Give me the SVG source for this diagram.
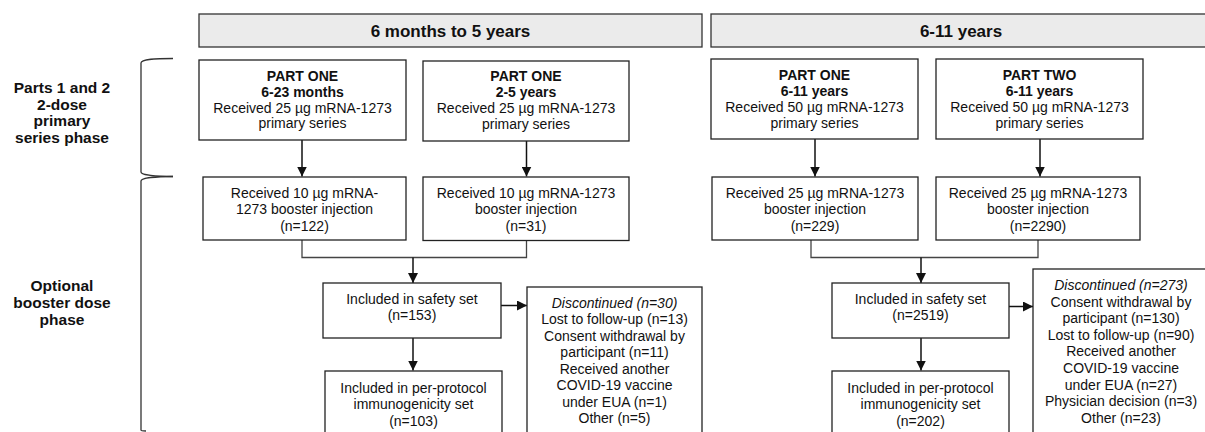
<svg xmlns="http://www.w3.org/2000/svg" width="1205" height="432" viewBox="0 0 1205 432">
<defs>
<style>
.box{fill:#fff;stroke:#222;stroke-width:1.3}
.hdr{fill:#ebebeb;stroke:#333;stroke-width:1.3}
text{font-family:"Liberation Sans",Arial,sans-serif;fill:#111;text-anchor:middle}
.t{font-size:14px}
.b{font-weight:bold}
.h{font-size:17px;font-weight:bold}
.lab{font-size:15.5px;font-weight:bold}
.i{font-style:italic}
.arr{stroke:#111;stroke-width:1.5;fill:none;marker-end:url(#ah)}
.mrg{stroke:#444;stroke-width:1.3;fill:none}
.brace{stroke:#333;stroke-width:1.3;fill:none}
</style>
<marker id="ah" viewBox="0 0 10 10" refX="10" refY="5" markerWidth="10" markerHeight="10" markerUnits="userSpaceOnUse" orient="auto">
<path d="M0,0 L10,5 L0,10 z" fill="#111"/>
</marker>
</defs>
<rect width="1205" height="432" fill="#fff"/>

<g id="labels">
<path class="brace" d="M173,58.5 C156,58.5 141,59 141,63 L141,172 C141,175 156,176.5 173,176.5"/>
<path class="brace" d="M173,176.5 C156,176.5 141,178 141,181 L141,430 C141,431 143,431 146,431"/>
<text class="lab" x="62" y="93">Parts 1 and 2</text>
<text class="lab" x="62" y="109.5">2-dose</text>
<text class="lab" x="62" y="126">primary</text>
<text class="lab" x="62" y="142.5">series phase</text>
<text class="lab" x="62" y="290.5">Optional</text>
<text class="lab" x="62" y="307.5">booster dose</text>
<text class="lab" x="62" y="324.5">phase</text>
</g>

<g id="header-left">
<rect class="hdr" x="199" y="14" width="503" height="33"/>
<text class="h" x="450.5" y="36.5">6 months to 5 years</text>
</g>
<g id="header-right">
<rect class="hdr" x="711" y="14" width="510" height="33"/>
<text class="h" x="961" y="36.5">6-11 years</text>
</g>

<g id="connectors">
<line class="arr" x1="302" y1="140" x2="302" y2="176.5"/>
<line class="arr" x1="526.5" y1="141" x2="526.5" y2="176.5"/>
<line class="arr" x1="815" y1="139" x2="815" y2="176.5"/>
<line class="arr" x1="1040" y1="139" x2="1040" y2="176.5"/>
<path class="mrg" d="M302,240 V257.5 H526.5 V240.5"/>
<path class="mrg" d="M811,240 V257.5 H1038 V240"/>
<line class="arr" x1="413" y1="257.5" x2="413" y2="283"/>
<line class="arr" x1="921" y1="257.5" x2="921" y2="283"/>
<line class="arr" x1="501" y1="305.5" x2="527" y2="305.5"/>
<line class="arr" x1="1009" y1="306.5" x2="1033" y2="306.5"/>
<line class="arr" x1="413" y1="338" x2="413" y2="370.5"/>
<line class="arr" x1="921" y1="338" x2="921" y2="370.5"/>
</g>

<g id="p1-6-23m">
<rect class="box" x="199" y="60" width="207" height="80"/>
<text class="t b" x="302.5" y="80.5">PART ONE</text>
<text class="t b" x="302.5" y="96.5">6-23 months</text>
<text class="t" x="302.5" y="112.5">Received 25 µg mRNA-1273</text>
<text class="t" x="302.5" y="128">primary series</text>
</g>
<g id="p1-2-5y">
<rect class="box" x="423" y="61" width="206" height="80"/>
<text class="t b" x="526" y="81">PART ONE</text>
<text class="t b" x="526" y="97">2-5 years</text>
<text class="t" x="526" y="113">Received 25 µg mRNA-1273</text>
<text class="t" x="526" y="128.5">primary series</text>
</g>
<g id="p1-6-11y">
<rect class="box" x="711" y="59" width="207" height="80"/>
<text class="t b" x="814.5" y="80">PART ONE</text>
<text class="t b" x="814.5" y="96">6-11 years</text>
<text class="t" x="814.5" y="112">Received 50 µg mRNA-1273</text>
<text class="t" x="814.5" y="127.5">primary series</text>
</g>
<g id="p2-6-11y">
<rect class="box" x="936" y="59" width="207" height="80"/>
<text class="t b" x="1039.5" y="80">PART TWO</text>
<text class="t b" x="1039.5" y="96">6-11 years</text>
<text class="t" x="1039.5" y="112">Received 50 µg mRNA-1273</text>
<text class="t" x="1039.5" y="127.5">primary series</text>
</g>

<g id="boost-122">
<rect class="box" x="203" y="177" width="203" height="63"/>
<text class="t" x="304.5" y="197.5">Received 10 µg mRNA-</text>
<text class="t" x="304.5" y="214">1273 booster injection</text>
<text class="t" x="304.5" y="230.5">(n=122)</text>
</g>
<g id="boost-31">
<rect class="box" x="423" y="177" width="206" height="63.5"/>
<text class="t" x="526" y="197.5">Received 10 µg mRNA-1273</text>
<text class="t" x="526" y="214">booster injection</text>
<text class="t" x="526" y="230.5">(n=31)</text>
</g>
<g id="boost-229">
<rect class="box" x="712" y="177" width="206" height="63"/>
<text class="t" x="815" y="197.5">Received 25 µg mRNA-1273</text>
<text class="t" x="815" y="214">booster injection</text>
<text class="t" x="815" y="230.5">(n=229)</text>
</g>
<g id="boost-2290">
<rect class="box" x="936" y="177" width="204" height="63"/>
<text class="t" x="1038" y="197.5">Received 25 µg mRNA-1273</text>
<text class="t" x="1038" y="214">booster injection</text>
<text class="t" x="1038" y="230.5">(n=2290)</text>
</g>

<g id="safety-153">
<rect class="box" x="323" y="283" width="178" height="55"/>
<text class="t" x="412" y="303.5">Included in safety set</text>
<text class="t" x="412" y="320">(n=153)</text>
</g>
<g id="safety-2519">
<rect class="box" x="832" y="283" width="177" height="55"/>
<text class="t" x="920.5" y="303.5">Included in safety set</text>
<text class="t" x="920.5" y="320">(n=2519)</text>
</g>

<g id="disc-30">
<rect class="box" x="527" y="287" width="175" height="150"/>
<text class="t i" x="614.5" y="307.5">Discontinued (n=30)</text>
<text class="t" x="614.5" y="324">Lost to follow-up (n=13)</text>
<text class="t" x="614.5" y="340.5">Consent withdrawal by</text>
<text class="t" x="614.5" y="357">participant (n=11)</text>
<text class="t" x="614.5" y="373.5">Received another</text>
<text class="t" x="614.5" y="390">COVID-19 vaccine</text>
<text class="t" x="614.5" y="406.5">under EUA (n=1)</text>
<text class="t" x="614.5" y="423">Other (n=5)</text>
</g>
<g id="disc-273">
<rect class="box" x="1033" y="269" width="180" height="170"/>
<text class="t i" x="1121" y="290">Discontinued (n=273)</text>
<text class="t" x="1121" y="306.6">Consent withdrawal by</text>
<text class="t" x="1121" y="323.2">participant (n=130)</text>
<text class="t" x="1121" y="339.8">Lost to follow-up (n=90)</text>
<text class="t" x="1121" y="356.4">Received another</text>
<text class="t" x="1121" y="373">COVID-19 vaccine</text>
<text class="t" x="1121" y="389.6">under EUA (n=27)</text>
<text class="t" x="1121" y="406.2">Physician decision (n=3)</text>
<text class="t" x="1121" y="422.8">Other (n=23)</text>
</g>

<g id="pp-103">
<rect class="box" x="325" y="371" width="177" height="70"/>
<text class="t" x="413.5" y="392.5">Included in per-protocol</text>
<text class="t" x="413.5" y="409">immunogenicity set</text>
<text class="t" x="413.5" y="425.5">(n=103)</text>
</g>
<g id="pp-202">
<rect class="box" x="832" y="371" width="177" height="70"/>
<text class="t" x="920.5" y="392.5">Included in per-protocol</text>
<text class="t" x="920.5" y="409">immunogenicity set</text>
<text class="t" x="920.5" y="425.5">(n=202)</text>
</g>
</svg>
